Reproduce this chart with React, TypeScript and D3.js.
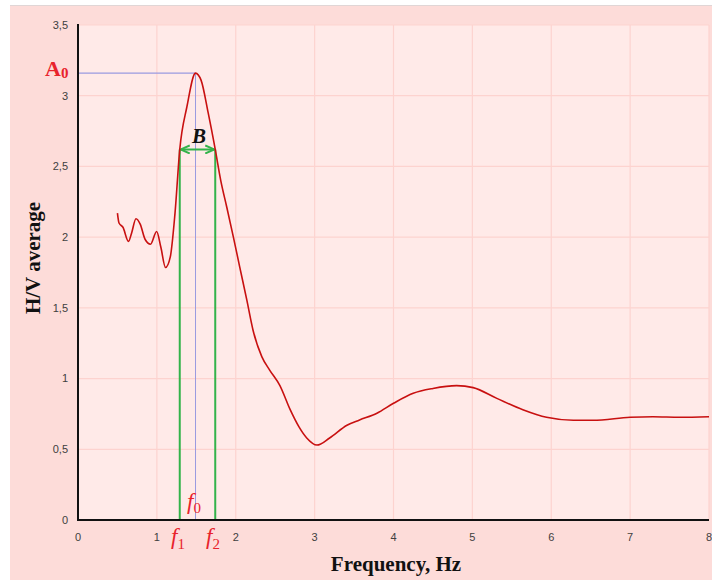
import React from "react";
import * as d3 from "d3";

const freq = [0.50, 0.52, 0.57, 0.64, 0.68, 0.735, 0.79, 0.85, 0.92, 0.997, 1.05, 1.11, 1.17, 1.23, 1.29, 1.38, 1.49, 1.56, 1.65, 1.74, 1.81, 1.885, 1.97, 2.05, 2.14, 2.22, 2.33, 2.43, 2.56, 2.69, 2.80, 2.90, 3.03, 3.19, 3.41, 3.57, 3.79, 4.00, 4.25, 4.50, 4.80, 5.01, 5.31, 5.64, 5.94, 6.28, 6.53, 7.0, 7.29, 7.63, 8.0];
const hv = [2.17, 2.10, 2.07, 1.97, 2.03, 2.13, 2.09, 1.985, 1.95, 2.04, 1.93, 1.785, 1.86, 2.17, 2.62, 2.92, 3.16, 3.11, 2.88, 2.62, 2.40, 2.215, 2.00, 1.79, 1.556, 1.34, 1.155, 1.06, 0.95, 0.78, 0.66, 0.58, 0.53, 0.58, 0.67, 0.707, 0.755, 0.825, 0.896, 0.93, 0.95, 0.936, 0.86, 0.78, 0.726, 0.705, 0.705, 0.726, 0.73, 0.726, 0.73];

const xTicks = [0, 1, 2, 3, 4, 5, 6, 7, 8];
const yTicks = [0, 0.5, 1, 1.5, 2, 2.5, 3, 3.5];

const f0 = 1.49;
const A0 = 3.16;
const f1 = 1.29;
const f2 = 1.74;
const bLevel = 2.62;

const W = 712, H = 580;
const M = { left: 78, right: 709, top: 25, bottom: 520 };

const locale = d3.formatLocale({ decimal: ",", thousands: " ", grouping: [3], currency: ["", ""] });
const fmt = locale.format("~g");

export default function App() {
  const x = d3.scaleLinear().domain([0, 8]).range([M.left, M.right]);
  const y = d3.scaleLinear().domain([0, 3.5]).range([M.bottom, M.top]);
  const pts = freq.map((f, i) => [f, hv[i]] as [number, number]);
  const line = d3.line<[number, number]>().x(d => x(d[0])).y(d => y(d[1])).curve(d3.curveMonotoneX);

  const red = "#e8232c";
  const green = "#33b34a";
  const blue = "#9a9ae0";
  const serif = "'Liberation Serif', 'Times New Roman', serif";
  const sans = "'Liberation Sans', Arial, sans-serif";

  return (
    <svg width={W} height={H} style={{ position: "absolute", left: 0, top: 0, display: "block" }}>
      <defs>
        <marker id="arr" viewBox="0 0 10 10" refX="9" refY="5" markerWidth="5" markerHeight="5" orient="auto-start-reverse">
          <path d="M0,1 L9,5 L0,9" fill="none" stroke={green} strokeWidth="2" />
        </marker>
      </defs>
      <rect x={0} y={0} width={W} height={H} fill="#ffffff" />
      <rect x={10} y={5} width={W - 10} height={H - 5} fill="#fddcd9" />
      <line x1={10} x2={W} y1={5.5} y2={5.5} stroke="#e0d6d6" strokeWidth={1} />
      <rect x={M.left} y={M.top} width={M.right - M.left} height={M.bottom - M.top} fill="#ffeae8" />
      {xTicks.slice(1).map(t => (
        <line key={"gx" + t} x1={x(t)} x2={x(t)} y1={M.top} y2={M.bottom} stroke="#fdd3cf" strokeWidth={1.2} />
      ))}
      {yTicks.slice(1).map(t => (
        <line key={"gy" + t} x1={M.left} x2={M.right} y1={y(t)} y2={y(t)} stroke="#fdd3cf" strokeWidth={1.2} />
      ))}
      {/* annotation lines */}
      <line x1={M.left} x2={x(f0)} y1={y(A0)} y2={y(A0)} stroke={blue} strokeWidth={1.2} />
      <line x1={x(f0)} x2={x(f0)} y1={y(A0)} y2={M.bottom} stroke={blue} strokeWidth={1} />
      <line x1={x(f1)} x2={x(f1)} y1={y(bLevel)} y2={M.bottom} stroke={green} strokeWidth={2} />
      <line x1={x(f2)} x2={x(f2)} y1={y(bLevel)} y2={M.bottom} stroke={green} strokeWidth={2} />
      <line x1={x(f1) + 1} x2={x(f2) - 1} y1={y(bLevel)} y2={y(bLevel)} stroke={green} strokeWidth={2}
        markerStart="url(#arr)" markerEnd="url(#arr)" />
      <path d={line(pts) || ""} fill="none" stroke="#c81010" strokeWidth={1.6} />
      {/* axes */}
      <line x1={M.left} x2={M.left} y1={M.top - 1} y2={M.bottom + 1} stroke="#111" strokeWidth={2} />
      <line x1={M.left - 1} x2={M.right} y1={M.bottom} y2={M.bottom} stroke="#111" strokeWidth={2} />
      {yTicks.map(t => (
        <text key={"ty" + t} x={68} y={y(t)} dy="0.35em" textAnchor="end" fontFamily={sans} fontSize={11} fill="#404040">{fmt(t)}</text>
      ))}
      {xTicks.map(t => (
        <text key={"tx" + t} x={x(t)} y={537} dy="0.35em" textAnchor="middle" fontFamily={sans} fontSize={11} fill="#404040">{fmt(t)}</text>
      ))}
      {/* labels */}
      <text x={396} y={571} textAnchor="middle" fontFamily={serif} fontWeight="bold" fontSize={21} fill="#111">Frequency, Hz</text>
      <text transform={`translate(40,${258}) rotate(-90)`} textAnchor="middle" fontFamily={serif} fontWeight="bold" fontSize={21} fill="#111">H/V average</text>
      <text x={45} y={76} fontFamily={serif} fontWeight="bold" fontSize={22} fill={red}>A<tspan fontSize={15} dy={2}>0</tspan></text>
      <text x={192} y={143} fontFamily={serif} fontWeight="bold" fontStyle="italic" fontSize={21} fill="#111">B</text>
      <text x={187} y={509} fontFamily={serif} fontStyle="italic" fontSize={23} fill={red}>f<tspan fontStyle="normal" fontSize={15} dy={4}>0</tspan></text>
      <text x={171} y={544} fontFamily={serif} fontStyle="italic" fontSize={23} fill={red}>f<tspan fontStyle="normal" fontSize={15} dy={5}>1</tspan></text>
      <text x={206} y={544} fontFamily={serif} fontStyle="italic" fontSize={23} fill={red}>f<tspan fontStyle="normal" fontSize={15} dy={5}>2</tspan></text>
    </svg>
  );
}
